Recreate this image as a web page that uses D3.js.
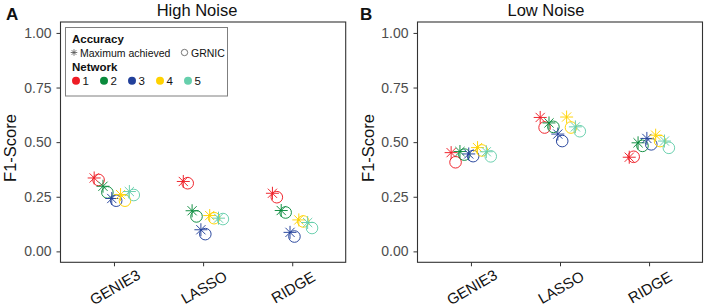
<!DOCTYPE html>
<html>
<head>
<meta charset="utf-8">
<script src="https://cdn.jsdelivr.net/npm/d3@7"></script>
<style>
  body { margin: 0; background: #fff; }
  svg { display: block; font-family: "Liberation Sans", Arial, sans-serif; }
  .tick text { fill: #4d4d4d; }
</style>
</head>
<body>
<div id="chart"></div>
<script>
/*********************************
   DATA
 *********************************/
const methods = ["GENIE3", "LASSO", "RIDGE"];
const networks = ["1", "2", "3", "4", "5"];
const netColors = ["#ee1c25", "#0a8a3c", "#22409a", "#ffd200", "#66cfac"];
const yTicks = [0, 0.25, 0.5, 0.75, 1];

// F1 per method (rows) x network (columns)
const highMax   = [[0.336, 0.298, 0.242, 0.260, 0.274], [0.320, 0.186, 0.099, 0.164, 0.152], [0.266, 0.187, 0.087, 0.144, 0.132]];
const highGrnic = [[0.327, 0.270, 0.232, 0.232, 0.258], [0.312, 0.160, 0.079, 0.152, 0.148], [0.248, 0.178, 0.068, 0.137, 0.107]];
const lowMax    = [[0.452, 0.457, 0.446, 0.475, 0.456], [0.613, 0.588, 0.537, 0.615, 0.570], [0.431, 0.497, 0.517, 0.532, 0.505]];
const lowGrnic  = [[0.408, 0.443, 0.436, 0.462, 0.435], [0.567, 0.570, 0.505, 0.567, 0.550], [0.433, 0.483, 0.490, 0.505, 0.474]];

/*********************************
   SETUP
 *********************************/
let W = 706, H = 307;
let svg = d3.select("#chart").append("svg").attr("width", W).attr("height", H);

// Star (ggplot shape 8) Path
function starPath(r) {
  let d = r * Math.SQRT1_2;
  return "M" + (-r) + ",0L" + r + ",0M0," + (-r) + "L0," + r +
         "M" + (-d) + "," + (-d) + "L" + d + "," + d + "M" + (-d) + "," + d + "L" + d + "," + (-d);
}

// Flatten To Points
function toPoints(maxArr, grnicArr) {
  let pts = [];
  methods.forEach((m, i) => {
    networks.forEach((n, j) => {
      pts.push({ method: m, net: j, type: "max", v: maxArr[i][j] });
      pts.push({ method: m, net: j, type: "grnic", v: grnicArr[i][j] });
    });
  });
  return pts;
}

// Render One Panel
function drawPanel(p) {
  let g = svg.append("g");
  let xScale = d3.scalePoint().domain(methods).range([p.left, p.right]).padding(0.6);
  let yScale = d3.scaleLinear().domain([-0.05, 1.05]).range([p.bottom, p.top]);
  let dodgeKeys = [];
  networks.forEach((n, j) => { dodgeKeys.push(j + "max"); dodgeKeys.push(j + "grnic"); });
  let dodge = d3.scaleBand().domain(dodgeKeys).range([-22, 22]);

  // Axes
  let yAxis = d3.axisLeft(yScale).tickValues(yTicks).tickFormat(d3.format(".2f")).tickSize(4).tickPadding(5);
  let xAxis = d3.axisBottom(xScale).tickSize(4).tickFormat("");
  let ya = g.append("g").attr("transform", "translate(" + p.left + ",0)").call(yAxis);
  let xa = g.append("g").attr("transform", "translate(0," + p.bottom + ")").call(xAxis);
  [ya, xa].forEach((a) => {
    a.select(".domain").remove();
    a.selectAll(".tick line").attr("stroke", "#333").attr("stroke-width", 1);
  });
  ya.selectAll(".tick text").attr("font-size", 14).attr("fill", "#4d4d4d");

  // Rotated Category Labels
  g.selectAll(".xlab").data(methods).enter().append("text")
    .attr("transform", (d) => "translate(" + (xScale(d) + 1) + "," + (p.bottom + 25) + ") rotate(-30)")
    .attr("text-anchor", "middle").attr("dy", "0.35em")
    .attr("font-size", 15).attr("fill", "#111").text((d) => d);

  // Panel Border
  g.append("rect").attr("x", p.left).attr("y", p.top).attr("width", p.right - p.left).attr("height", p.bottom - p.top)
    .attr("fill", "none").attr("stroke", "#333").attr("stroke-width", 1.1);

  // Points
  let pts = toPoints(p.maxArr, p.grnicArr);
  let cx = (d) => xScale(d.method) + dodge(d.net + d.type) + dodge.bandwidth() / 2;
  g.selectAll(".pt").data(pts).enter().append("path")
    .attr("transform", (d) => "translate(" + cx(d) + "," + yScale(d.v) + ")")
    .attr("d", (d) => d.type == "max" ? starPath(6.5) : d3.symbol().type(d3.symbolCircle).size(Math.PI * 5.8 * 5.8)())
    .attr("fill", "none").attr("stroke", (d) => netColors[d.net]).attr("stroke-width", 0.95);

  // Title, Panel Letter, Y Label
  g.append("text").attr("x", p.titleX).attr("y", 16).attr("text-anchor", "middle").attr("font-size", 16.5).attr("fill", "#111").text(p.title);
  g.append("text").attr("x", p.letterX).attr("y", 20).attr("font-size", 17).attr("font-weight", "bold").attr("fill", "#111").text(p.letter);
  g.append("text").attr("transform", "translate(" + p.ylabX + ",148) rotate(-90)").attr("text-anchor", "middle")
    .attr("dy", "0.35em").attr("font-size", 16.5).attr("fill", "#111").text("F1-Score");
  return g;
}

drawPanel({ left: 60.5, right: 345.7, top: 22, bottom: 262.3, maxArr: highMax, grnicArr: highGrnic,
            title: "High Noise", titleX: 197, letter: "A", letterX: 6, ylabX: 10 });
drawPanel({ left: 417.5, right: 702.5, top: 22, bottom: 262.3, maxArr: lowMax, grnicArr: lowGrnic,
            title: "Low Noise", titleX: 546, letter: "B", letterX: 360, ylabX: 368 });

/*********************************
   LEGEND
 *********************************/
let lg = svg.append("g");
lg.append("rect").attr("x", 65.5).attr("y", 27.5).attr("width", 162).attr("height", 68.5)
  .attr("fill", "#fff").attr("stroke", "#7f7f7f").attr("stroke-width", 1);
lg.append("text").attr("x", 72).attr("y", 42.5).attr("font-size", 11.5).attr("font-weight", "bold").attr("fill", "#111").text("Accuracy");
lg.append("path").attr("transform", "translate(74,52.5)").attr("d", starPath(3.3)).attr("fill", "none").attr("stroke", "#555").attr("stroke-width", 0.8);
lg.append("text").attr("x", 80).attr("y", 56.5).attr("font-size", 10.5).attr("fill", "#111").text("Maximum achieved");
lg.append("circle").attr("cx", 184.5).attr("cy", 52.5).attr("r", 3.2).attr("fill", "none").attr("stroke", "#555").attr("stroke-width", 0.8);
lg.append("text").attr("x", 191).attr("y", 56.5).attr("font-size", 10.5).attr("fill", "#111").text("GRNIC");
lg.append("text").attr("x", 72).attr("y", 70.5).attr("font-size", 11.5).attr("font-weight", "bold").attr("fill", "#111").text("Network");
let legX = d3.scalePoint().domain(networks).range([76, 188]);
networks.forEach((n, j) => {
  lg.append("circle").attr("cx", legX(n)).attr("cy", 80.7).attr("r", 4).attr("fill", netColors[j]);
  lg.append("text").attr("x", legX(n) + 6.5).attr("y", 85).attr("font-size", 11.5).attr("fill", "#111").text(n);
});
</script>
</body>
</html>
